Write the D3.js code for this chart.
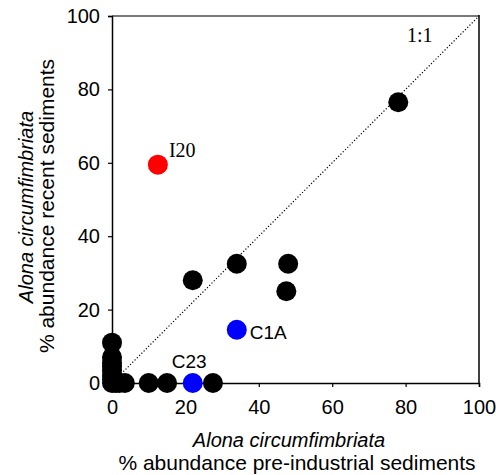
<!DOCTYPE html>
<html>
<head>
<meta charset="utf-8">
<script src="https://cdn.jsdelivr.net/npm/d3@7"></script>
<style>
  body { margin: 0; background: #fff; }
  svg { display: block; font-family: Arial, "Liberation Sans", sans-serif; }
</style>
</head>
<body>
<div id="chart"></div>
<script>
// % abundance, pre-industrial (x) vs recent (y)
const preIndustrial = [0, 0, 0, 0, 0, 0, 0, 0, 1, 2, 3.5, 10, 15, 27.5, 22, 34, 48, 47.5, 78, 12.5, 22, 34]
const recent        = [0, 1, 2, 3.5, 4.5, 5.5, 7, 11, 0, 0, 0, 0, 0, 0, 28, 32.5, 32.5, 25, 76.5, 59.5, 0, 14.5]
const siteLabels    = ['', '', '', '', '', '', '', '', '', '', '', '', '', '', '', '', '', '', '', 'I20', 'C23', 'C1A']
const pointColors   = ['black', 'black', 'black', 'black', 'black', 'black', 'black', 'black', 'black', 'black', 'black', 'black', 'black', 'black', 'black', 'black', 'black', 'black', 'black', 'red', 'blue', 'blue']
const tickValues = [0, 20, 40, 60, 80, 100]

const points = preIndustrial.map((x, i) => ({x, y: recent[i], label: siteLabels[i], color: pointColors[i]}))

const width = 496
const height = 475
const margin = {top: 16, right: 17, bottom: 92, left: 112}
const sans = 'Arial, "Liberation Sans", sans-serif'
const serif = '"Liberation Serif", "Times New Roman", serif'

const x = d3.scaleLinear()
  .domain([0, 100])
  .range([margin.left, width - margin.right])
const y = d3.scaleLinear()
  .domain([0, 100])
  .range([height - margin.bottom, margin.top])

const svg = d3.select('#chart').append('svg')
  .attr('width', width)
  .attr('height', height)

// frame: top grey, right black
svg.append('line')
  .attr('x1', x(0)).attr('x2', x(100))
  .attr('y1', y(100)).attr('y2', y(100))
  .attr('stroke', '#7a7a7a')
  .attr('stroke-width', 2)
svg.append('line')
  .attr('x1', x(100)).attr('x2', x(100))
  .attr('y1', y(100) - 1).attr('y2', y(0))
  .attr('stroke', '#000')
  .attr('stroke-width', 1.5)

// 1:1 line
svg.append('line')
  .attr('x1', x(0)).attr('y1', y(0))
  .attr('x2', x(100)).attr('y2', y(100))
  .attr('stroke', '#000')
  .attr('stroke-width', 1.2)
  .attr('stroke-dasharray', '1.2,2')

svg.append('text')
  .attr('x', 407)
  .attr('y', 42)
  .attr('font-family', serif)
  .attr('font-size', 20)
  .text('1:1')

const xAxis = svg.append('g')
  .attr('transform', `translate(0,${y(0)})`)
  .call(d3.axisBottom(x).tickValues(tickValues).tickSize(4).tickPadding(13))
const yAxis = svg.append('g')
  .attr('transform', `translate(${x(0)},0)`)
  .call(d3.axisLeft(y).tickValues(tickValues).tickSize(4).tickPadding(8))

for (const axis of [xAxis, yAxis]) {
  axis.select('.domain').attr('stroke', '#000').attr('stroke-width', 1.5)
  axis.selectAll('.tick line').attr('stroke', '#000').attr('stroke-width', 1.2)
  axis.selectAll('.tick text')
    .attr('font-family', sans)
    .attr('font-size', 20)
    .attr('fill', '#000')
}

svg.selectAll('.pt').data(points)
  .enter().append('circle')
    .attr('class', 'pt')
    .attr('cx', (d) => x(d.x))
    .attr('cy', (d) => y(d.y))
    .attr('r', 10)
    .attr('fill', (d) => d.color)

// site labels
const labelPos = {
  I20: {dx: 11, dy: -8, font: serif, size: 20},
  C23: {dx: -21, dy: -15, font: sans, size: 19},
  C1A: {dx: 13, dy: 9, font: sans, size: 19}
}
svg.selectAll('.site').data(points.filter((d) => d.label))
  .enter().append('text')
    .attr('class', 'site')
    .attr('x', (d) => x(d.x) + labelPos[d.label].dx)
    .attr('y', (d) => y(d.y) + labelPos[d.label].dy)
    .attr('font-family', (d) => labelPos[d.label].font)
    .attr('font-size', (d) => labelPos[d.label].size)
    .text((d) => d.label)

// axis titles
const xTitle = svg.append('text')
  .attr('text-anchor', 'middle')
xTitle.append('tspan')
  .attr('x', 289).attr('y', 447)
  .attr('font-size', 20)
  .attr('font-style', 'italic')
  .text('Alona circumfimbriata')
xTitle.append('tspan')
  .attr('x', 297).attr('y', 470)
  .attr('font-size', 21)
  .text('% abundance pre-industrial sediments')

const yTitle = svg.append('text')
  .attr('text-anchor', 'middle')
  .attr('transform', 'rotate(-90)')
yTitle.append('tspan')
  .attr('x', -207).attr('y', 33)
  .attr('font-size', 20)
  .attr('font-style', 'italic')
  .text('Alona circumfimbriata')
yTitle.append('tspan')
  .attr('x', -206).attr('y', 54)
  .attr('font-size', 21)
  .text('% abundance recent sediments')
</script>
</body>
</html>
